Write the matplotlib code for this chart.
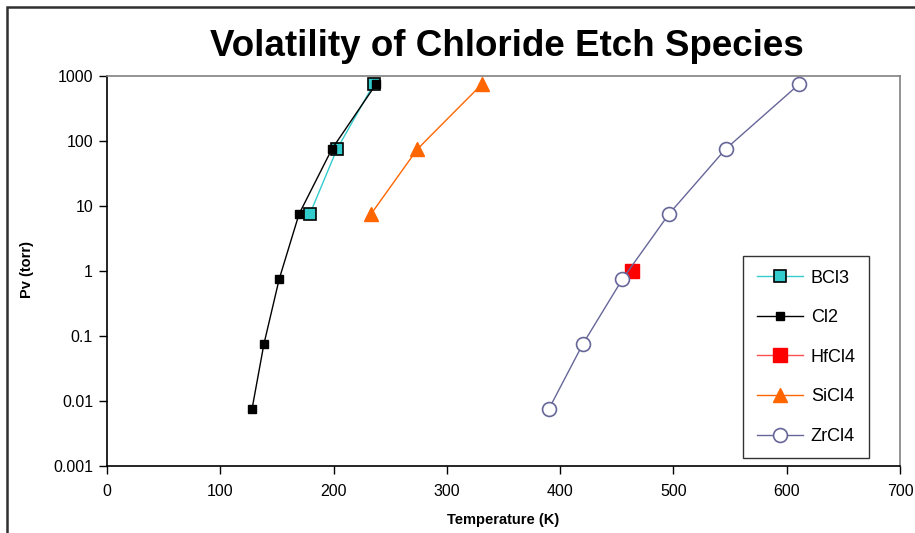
import matplotlib
matplotlib.use("Agg")
import matplotlib.pyplot as plt
from matplotlib.patches import Rectangle

plt.rcParams['font.family'] = ['Liberation Sans', 'DejaVu Sans']

# vapour pressure data (T in K, Pv in torr)
bcl3_t = [179, 203, 235.5]
bcl3_p = [7.5, 75, 750]

cl2_t = [128, 138.5, 152, 169.5, 198.5, 237.5]
cl2_p = [0.0075, 0.075, 0.75, 7.5, 75, 750]

hfcl4_t = [463]
hfcl4_p = [1.0]

sicl4_t = [233, 274, 331]
sicl4_p = [7.5, 75, 750]

zrcl4_t = [390, 420, 455, 496, 546, 611]
zrcl4_p = [0.0075, 0.075, 0.75, 7.5, 75, 750]

x_ticks = [0, 100, 200, 300, 400, 500, 600, 700]
y_ticks = [0.001, 0.01, 0.1, 1, 10, 100, 1000]
y_labels = ['0.001', '0.01', '0.1', '1', '10', '100', '1000']

fig = plt.figure(figsize=(9.15, 5.33), dpi=100)
ax = fig.add_axes([107 / 915, 1 - 466 / 533, 793 / 915, 390 / 533])

# outer chart border
fig.patches.append(Rectangle((7 / 915, -0.05), 1.0, 1 - 7 / 533 + 0.05,
                             transform=fig.transFigure, fill=False,
                             edgecolor='#303030', linewidth=1.8))

ax.plot(bcl3_t, bcl3_p, color='#33CCCC', linewidth=1, marker='s', markersize=9,
        markerfacecolor='#33CCCC', markeredgecolor='black', markeredgewidth=1.2,
        label='BCl3')
ax.plot(cl2_t, cl2_p, color='black', linewidth=1, marker='s', markersize=5.5,
        markerfacecolor='black', markeredgecolor='black', label='Cl2')
ax.plot(hfcl4_t, hfcl4_p, color='#FF5050', linewidth=1, marker='s', markersize=9.5,
        markerfacecolor='#FF0000', markeredgecolor='#FF0000', label='HfCl4')
ax.plot(sicl4_t, sicl4_p, color='#FF6600', linewidth=1, marker='^', markersize=10.5,
        markerfacecolor='#FF6600', markeredgecolor='#FF6600', label='SiCl4')
ax.plot(zrcl4_t, zrcl4_p, color='#666699', linewidth=1, marker='o', markersize=10,
        markerfacecolor='white', markeredgecolor='#666699', markeredgewidth=1.2,
        label='ZrCl4')

ax.set_yscale('log')
ax.set_xlim(0, 700)
ax.set_ylim(0.001, 1000)
ax.set_xticks(x_ticks)
ax.set_xticklabels([str(v) for v in x_ticks])
ax.set_yticks(y_ticks)
ax.set_yticklabels(y_labels)
ax.minorticks_off()
ax.tick_params(axis='both', direction='out', length=6, width=1, labelsize=11.5)
ax.tick_params(axis='x', pad=7)
ax.tick_params(axis='y', pad=4)

for side in ['top', 'right']:
    ax.spines[side].set_color('#808080')
    ax.spines[side].set_linewidth(1.2)
for side in ['left', 'bottom']:
    ax.spines[side].set_color('black')
    ax.spines[side].set_linewidth(1.2)

fig.text(507 / 915, 1 - 47 / 533, 'Volatility of Chloride Etch Species',
         ha='center', va='center', fontsize=26.5, fontweight='bold')
ax.set_xlabel('Temperature (K)', fontsize=10.5, fontweight='bold')
ax.set_ylabel('Pv (torr)', fontsize=10.5, fontweight='bold')
ax.xaxis.set_label_coords((503 - 107) / 793, (466 - 520) / 390)
ax.yaxis.set_label_coords((27 - 107) / 793, (466 - 270) / 390)
ax.xaxis.label.set_va('center')
ax.yaxis.label.set_va('center')

leg = ax.legend(loc='upper left', bbox_to_anchor=(743 / 915, 1 - 256 / 533),
                bbox_transform=fig.transFigure, fontsize=13, frameon=True,
                fancybox=False, edgecolor='black', borderpad=0.75,
                labelspacing=1.25, handlelength=2.6, handletextpad=0.4,
                borderaxespad=0)
leg.get_frame().set_linewidth(1.0)

fig.savefig('out.png', dpi=100)
